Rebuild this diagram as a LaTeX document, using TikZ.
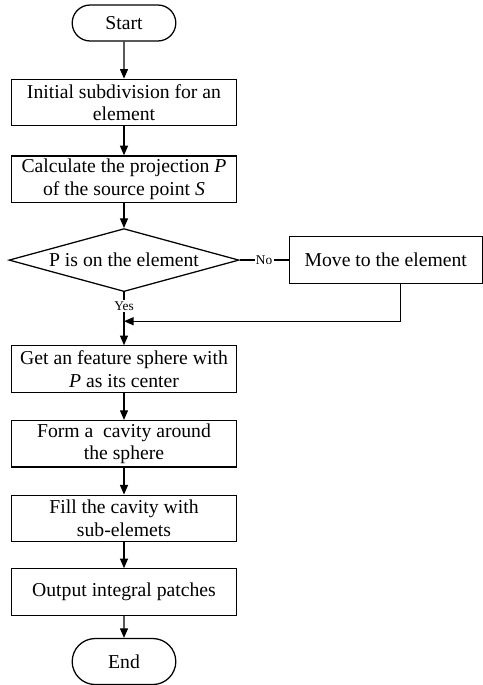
\documentclass[tikz,border=0pt]{standalone}
\usepackage{fontspec}
\setmainfont{Liberation Serif}
\usepackage{tikz}
\usetikzlibrary{arrows.meta, positioning, shapes.geometric, shapes.misc}

\begin{document}
\begin{tikzpicture}[
  term/.style={rounded rectangle, draw, line width=0.9pt, minimum width=2.825cm,
               minimum height=0.9cm, font=\fontsize{14pt}{16pt}\selectfont},
  proc/.style={rectangle, draw, line width=0.9pt, minimum width=5.625cm,
               minimum height=1.16cm, align=center, inner sep=0.5pt,
               font=\fontsize{14pt}{16pt}\selectfont},
  dec/.style={diamond, draw, line width=0.9pt, minimum width=5.75cm,
              minimum height=1.575cm, inner sep=0pt, aspect=3.65,
              font=\fontsize{14pt}{16pt}\selectfont},
  lbl/.style={fill=white, inner sep=1pt, font=\fontsize{9.5pt}{11pt}\selectfont},
  arr/.style={-{Triangle[length=0.24cm, width=0.2cm]}, line width=0.9pt},
  ln/.style={line width=0.9pt},
]
\useasboundingbox (-3.1,0.575) rectangle (8.975,-16.55);

% Main column
\node[term] (start) {Start};
\node[proc, below=0.925cm of start] (init) {Initial subdivision for an\\element};
\node[proc, below=0.725cm of init] (proj) {Calculate the projection \textit{P}\\of the source point \textit{S}};
\node[dec, below=0.625cm of proj] (onel) {P is on the element};
\node[proc, below=1.325cm of onel] (sphere) {Get an feature sphere with\\\textit{P} as its center};
\node[proc, below=0.675cm of sphere] (cavity) {Form a\ \ cavity around\\the sphere};
\node[proc, below=0.675cm of cavity] (fill) {Fill the cavity with\\sub-elemets};
\node[proc, below=0.65cm of fill] (output) {Output integral patches};
\node[term, minimum height=1.15cm, below=0.55cm of output] (end) {End};

% Side branch
\node[proc, minimum width=4.825cm, minimum height=1.175cm, right=1.225cm of onel] (move) {Move to the element};
\coordinate[below=0.725cm of onel] (merge);
\coordinate (mvdown) at ([xshift=0.36cm]move.south);

% Connectors
\draw[arr] (start) -- (init);
\draw[arr] (init) -- (proj);
\draw[arr] (proj) -- (onel);
\draw[arr] (onel) -- node[lbl, pos=0.26] {Yes} (sphere);
\draw[ln] (onel) -- node[lbl] {No} (move);
\draw[arr] (mvdown) |- (merge);
\draw[arr] (sphere) -- (cavity);
\draw[arr] (cavity) -- (fill);
\draw[arr] (fill) -- (output);
\draw[arr] (output) -- (end);
\end{tikzpicture}
\end{document}
